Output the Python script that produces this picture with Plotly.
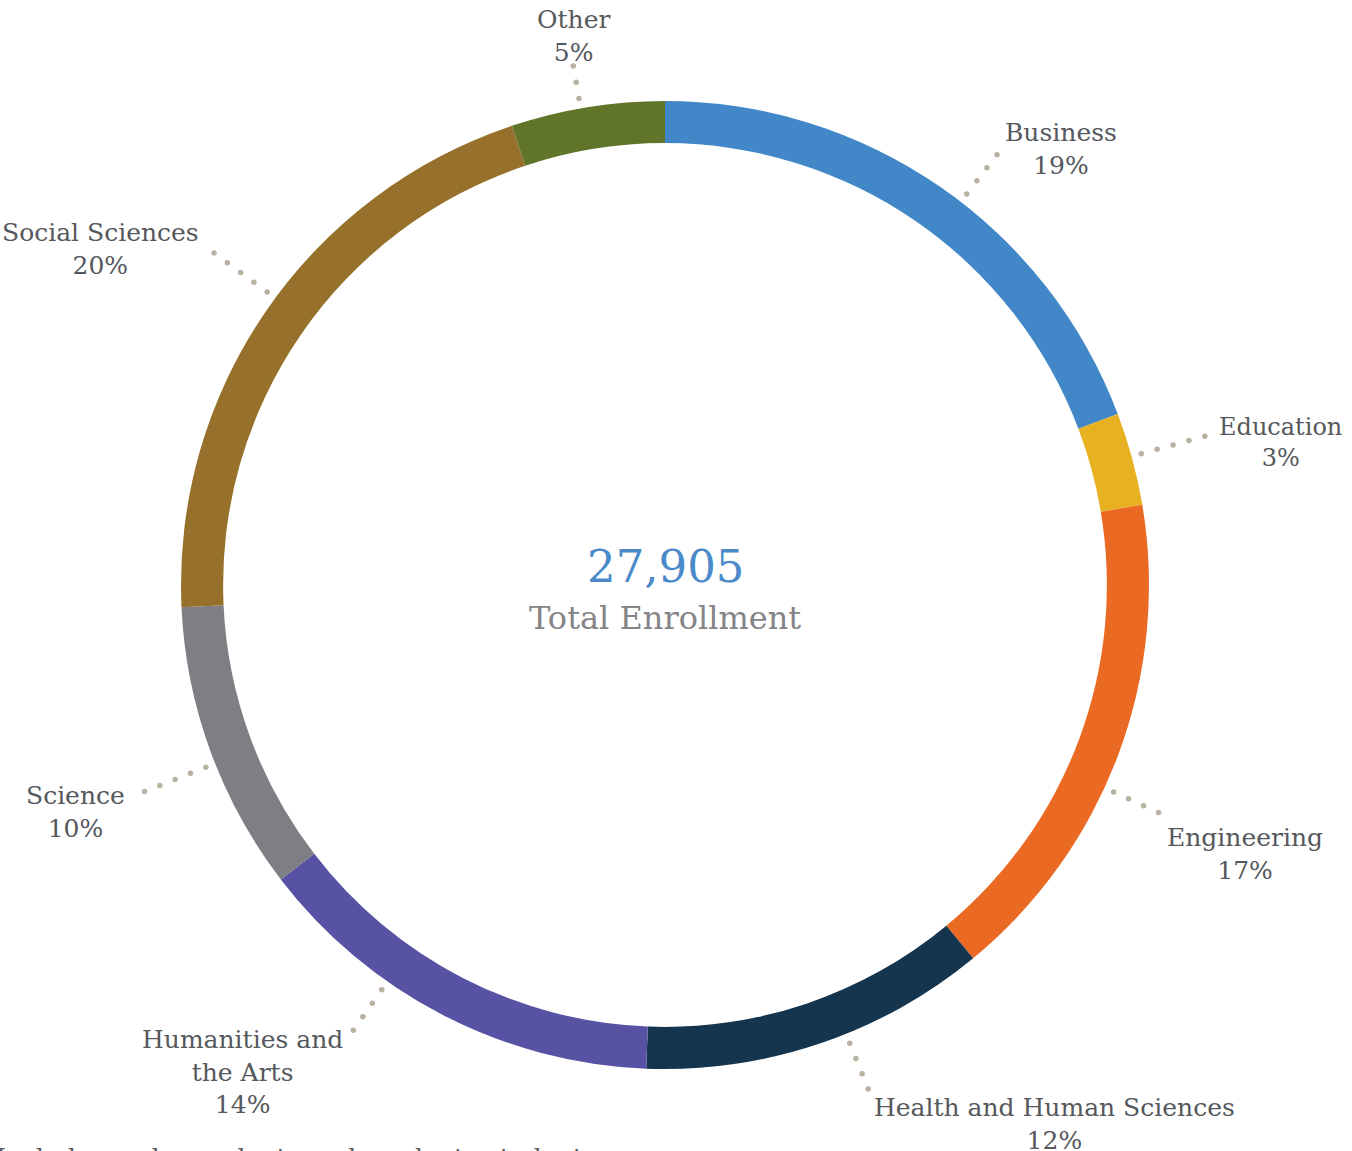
import math
import plotly.graph_objects as go

# ---------------- data ----------------
categories = ["Business", "Education", "Engineering", "Health and Human Sciences",
              "Humanities and the Arts", "Science", "Social Sciences", "Other"]
label_text = ["Business", "Education", "Engineering", "Health and Human Sciences",
              "Humanities and<br>the Arts", "Science", "Social Sciences", "Other"]
enrollment = [5372, 865, 4650, 3238, 3900, 2700, 5750, 1430]
pct_labels = ["19%", "3%", "17%", "12%", "14%", "10%", "20%", "5%"]
total_label = "27,905"
total_caption = "Total Enrollment"
footnote = "Includes undergraduate and graduate students"

# ---------------- style ----------------
colors = ["#4287c8", "#e8b121", "#ea6a23", "#15354f",
          "#5752a3", "#807e85", "#97712c", "#61752a"]
W, H = 1352, 1151
CX, CY, R = 665, 585, 484
HOLE = 0.913
FONT = "DejaVu Serif"
TEXT_COLOR = "#55585c"
DOT_COLOR = "#b9b1a2"

# leader styling per slice: angle tweak (deg), number of dots, label anchor & offset
angle_adj = [3.0, -0.3, 4.3, -3.3, 7.6, -1.6, 1.9, -0.8]
n_dots = [4, 5, 4, 4, 4, 5, 5, 3]
anchors = [("left", "middle", 6, -6), ("left", "middle", 12, 6), ("left", "top", 6, 8),
           ("left", "top", 4, 2), ("right", "top", -8, -7), ("right", "top", -17, -13),
           ("right", "middle", -13, -4), ("center", "bottom", 0, 3)]
DOT_R0, DOT_STEP = 494, 16.5

fig = go.Figure()

fig.add_trace(go.Pie(
    labels=categories, values=enrollment, hole=HOLE, sort=False,
    direction="clockwise", rotation=0,
    marker=dict(colors=colors, line=dict(width=0)),
    textinfo="none", hoverinfo="label+percent", showlegend=False,
    domain=dict(x=[(CX - R) / W, (CX + R) / W], y=[1 - (CY + R) / H, 1 - (CY - R) / H]),
))

total = sum(enrollment)
cum = 0
dot_x, dot_y = [], []
annotations = []
for i, v in enumerate(enrollment):
    mid = (cum + v / 2) / total * 360 + angle_adj[i]
    cum += v
    a = math.radians(mid)
    ex = ey = 0
    for k in range(n_dots[i]):
        r = DOT_R0 + k * DOT_STEP
        ex = CX + r * math.sin(a)
        ey = CY - r * math.cos(a)
        dot_x.append(ex)
        dot_y.append(ey)
    xa, ya, dx, dy = anchors[i]
    annotations.append(dict(
        x=ex + dx, y=ey + dy, xref="x", yref="y",
        text=f"{label_text[i]}<br>{pct_labels[i]}",
        showarrow=False, xanchor=xa, yanchor=ya, align="center",
        font=dict(family=FONT, size=25 if i != 1 else 24, color=TEXT_COLOR),
    ))

fig.add_trace(go.Scatter(
    x=dot_x, y=dot_y, mode="markers", hoverinfo="skip", showlegend=False,
    marker=dict(size=5.5, color=DOT_COLOR),
))

annotations += [
    dict(x=CX, y=566, xref="x", yref="y", text=total_label, showarrow=False,
         font=dict(family=FONT, size=45, color="#4a8ac9"), xanchor="center", yanchor="middle"),
    dict(x=CX, y=618, xref="x", yref="y", text=total_caption, showarrow=False,
         font=dict(family=FONT, size=32, color="#858488"), xanchor="center", yanchor="middle"),
    dict(x=0, y=1141, xref="paper", yref="y", xshift=-6, text=footnote, showarrow=False,
         font=dict(family=FONT, size=25, color=TEXT_COLOR), xanchor="left", yanchor="top"),
]

fig.update_layout(
    width=W, height=H, margin=dict(l=0, r=0, t=0, b=0),
    paper_bgcolor="white", plot_bgcolor="rgba(0,0,0,0)",
    xaxis=dict(range=[0, W], visible=False, fixedrange=True),
    yaxis=dict(range=[H, 0], visible=False, fixedrange=True),
    annotations=annotations,
)

fig.write_html("out.html", config={"displayModeBar": False},
               post_script="document.body.style.margin='0';")
